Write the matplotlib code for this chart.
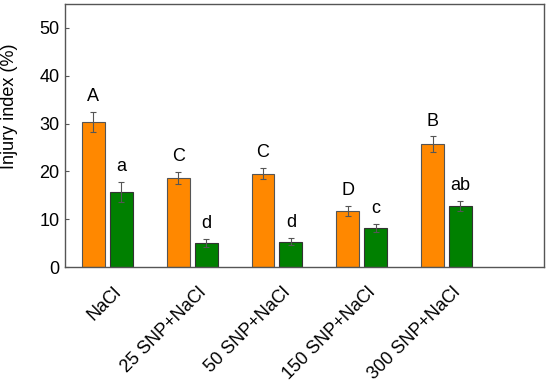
import matplotlib
matplotlib.use("Agg")
import matplotlib.pyplot as plt
from matplotlib.transforms import ScaledTranslation
import numpy as np

plt.rcParams['font.family'] = ['Liberation Sans', 'DejaVu Sans']

categories = ["NaCl", "25 SNP+NaCl", "50 SNP+NaCl", "150 SNP+NaCl", "300 SNP+NaCl"]
orange_vals = [30.3, 18.6, 19.5, 11.7, 25.7]
orange_err = [2.1, 1.2, 1.2, 1.0, 1.6]
green_vals = [15.6, 5.0, 5.3, 8.1, 12.8]
green_err = [2.1, 0.8, 0.7, 0.8, 1.1]
orange_letters = ["A", "C", "C", "D", "B"]
green_letters = ["a", "d", "d", "c", "ab"]

FS = 13

fig = plt.figure(figsize=(5.5, 3.87), dpi=100)
ax = fig.add_axes([65/550, 1-267/387, 479/550, 263/387])

x = np.arange(len(categories))
off = 0.165
w = 0.27
ekw = dict(ecolor='#555555', elinewidth=0.8, capsize=2, capthick=0.8)
ax.bar(x - off, orange_vals, w, color='#FF8800', edgecolor='#555555', linewidth=0.8,
       yerr=orange_err, error_kw=ekw, zorder=2)
ax.bar(x + off, green_vals, w, color='#008000', edgecolor='#333333', linewidth=0.8,
       yerr=green_err, error_kw=ekw, zorder=2)

for xi, v, e, t in zip(x - off, orange_vals, orange_err, orange_letters):
    ax.annotate(t, (xi, v + e), xytext=(0, 5), textcoords='offset points',
                ha='center', va='bottom', fontsize=FS)
for xi, v, e, t in zip(x + off, green_vals, green_err, green_letters):
    ax.annotate(t, (xi, v + e), xytext=(0, 5), textcoords='offset points',
                ha='center', va='bottom', fontsize=FS)

ax.set_xlim(-0.5, 5.15)
ax.set_ylim(0, 55)
ax.set_yticks([0, 10, 20, 30, 40, 50])
ax.set_xticks(x)
ax.set_xticklabels(categories, rotation=45, ha='right', rotation_mode='anchor', fontsize=FS)
ax.tick_params(axis='x', length=0, pad=12)
shift = ScaledTranslation(5/100, 0, fig.dpi_scale_trans)
for lbl in ax.get_xticklabels():
    lbl.set_transform(lbl.get_transform() + shift)
ax.tick_params(axis='y', direction='in', length=3, labelsize=FS, pad=4, color='#555555')
ax.set_ylabel("Injury index (%)", fontsize=FS)
ax.yaxis.set_label_coords(-0.099, 0.612)
for s in ax.spines.values():
    s.set_color('#555555')
    s.set_linewidth(1)

fig.savefig("out.png", dpi=100)
